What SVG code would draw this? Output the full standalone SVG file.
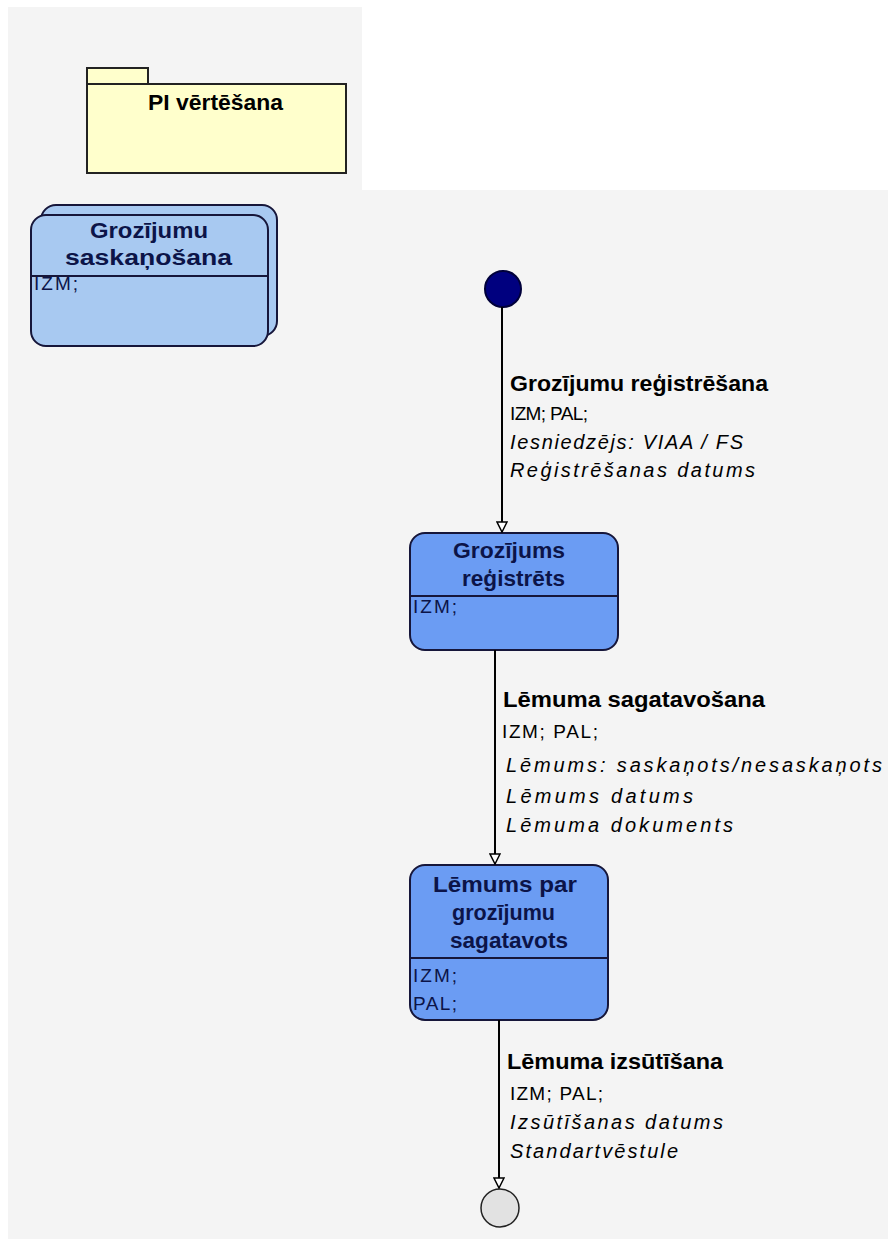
<svg xmlns="http://www.w3.org/2000/svg" width="888" height="1239" viewBox="0 0 888 1239">
<style>
.bg{fill:#f4f4f4}
.node{stroke:#16163a;stroke-width:2}
.n1{fill:#a8c9f1}
.n2{fill:#6b9cf3}
.div{stroke:#16163a;stroke-width:2}
.title{font-family:"Liberation Sans",Arial,sans-serif;font-weight:bold;font-size:22px;fill:#0c1448}
.attr{font-family:"Liberation Sans",Arial,sans-serif;font-size:19px;fill:#0c1448}
.lb{font-family:"Liberation Sans",Arial,sans-serif;font-weight:bold;font-size:22px;fill:#000}
.lr{font-family:"Liberation Sans",Arial,sans-serif;font-size:19px;fill:#000}
.li{font-family:"Liberation Sans",Arial,sans-serif;font-style:italic;font-size:20px;fill:#000}
.edge{stroke:#000;stroke-width:2;fill:none}
</style>
<defs>
<marker id="arr" markerUnits="userSpaceOnUse" markerWidth="12" markerHeight="12" refX="11" refY="6" orient="auto" viewBox="0 0 12 12">
<path d="M1,1 L11,6 L1,11 Z" fill="#fff" stroke="#000" stroke-width="1.5"/>
</marker>
</defs>
<rect x="0" y="0" width="888" height="1239" fill="#fff"/>
<rect class="bg" x="8" y="7" width="354" height="183"/>
<rect class="bg" x="8" y="190" width="880" height="1049"/>

<g id="package">
<rect x="87" y="68" width="61" height="16" fill="#ffffcc" stroke="#222" stroke-width="2"/>
<rect x="87" y="84" width="259" height="89" fill="#ffffcc" stroke="#222" stroke-width="2"/>
<text class="lb" x="148" y="110" textLength="135" lengthAdjust="spacingAndGlyphs">PI vērtēšana</text>
</g>

<g id="grozijumu-saskanosana">
<rect class="node n1" x="41" y="205" width="236" height="131" rx="15"/>
<rect class="node n1" x="31" y="215" width="237" height="131" rx="15"/>
<line class="div" x1="31" y1="276" x2="268" y2="276"/>
<text class="title" x="90" y="238" textLength="118" lengthAdjust="spacingAndGlyphs">Grozījumu</text>
<text class="title" x="65" y="265" textLength="167" lengthAdjust="spacingAndGlyphs">saskaņošana</text>
<text class="attr" x="34" y="290" textLength="44">IZM;</text>
</g>

<g id="initial">
<circle cx="503" cy="289" r="18" fill="#00007f" stroke="#00003a" stroke-width="2"/>
</g>

<g id="grozijums-registrets">
<rect class="node n2" x="410" y="533" width="208" height="117" rx="15"/>
<line class="div" x1="410" y1="596" x2="618" y2="596"/>
<text class="title" x="453" y="558" textLength="112" lengthAdjust="spacingAndGlyphs">Grozījums</text>
<text class="title" x="462" y="586" textLength="103" lengthAdjust="spacingAndGlyphs">reģistrēts</text>
<text class="attr" x="413" y="613" textLength="44">IZM;</text>
</g>

<g id="lemums-sagatavots">
<rect class="node n2" x="410" y="865" width="198" height="155" rx="15"/>
<line class="div" x1="410" y1="958" x2="608" y2="958"/>
<text class="title" x="433" y="892" textLength="144" lengthAdjust="spacingAndGlyphs">Lēmums par</text>
<text class="title" x="452" y="920" textLength="103" lengthAdjust="spacingAndGlyphs">grozījumu</text>
<text class="title" x="450" y="948" textLength="118" lengthAdjust="spacingAndGlyphs">sagatavots</text>
<text class="attr" x="413" y="982" textLength="44">IZM;</text>
<text class="attr" x="413" y="1010" textLength="44">PAL;</text>
</g>

<g id="final">
<circle cx="500" cy="1208" r="19" fill="#e2e2e2" stroke="#222" stroke-width="1.5"/>
</g>

<g id="connectors">
<line class="edge" x1="502" y1="307" x2="502" y2="532" marker-end="url(#arr)"/>
<line class="edge" x1="495" y1="650" x2="495" y2="864" marker-end="url(#arr)"/>
<line class="edge" x1="499" y1="1020" x2="499" y2="1188" marker-end="url(#arr)"/>
</g>

<g id="label-registresana">
<text class="lb" x="510" y="391" textLength="258" lengthAdjust="spacingAndGlyphs">Grozījumu reģistrēšana</text>
<text class="lr" x="510" y="420" textLength="78">IZM; PAL;</text>
<text class="li" x="510" y="449" textLength="233">Iesniedzējs: VIAA / FS</text>
<text class="li" x="510" y="477" textLength="245">Reģistrēšanas datums</text>
</g>

<g id="label-sagatavosana">
<text class="lb" x="503" y="707" textLength="262" lengthAdjust="spacingAndGlyphs">Lēmuma sagatavošana</text>
<text class="lr" x="502" y="738" textLength="96">IZM; PAL;</text>
<text class="li" x="506" y="772" textLength="376">Lēmums: saskaņots/nesaskaņots</text>
<text class="li" x="506" y="803" textLength="187">Lēmums datums</text>
<text class="li" x="506" y="832" textLength="227">Lēmuma dokuments</text>
</g>

<g id="label-izsutisana">
<text class="lb" x="507" y="1069" textLength="216" lengthAdjust="spacingAndGlyphs">Lēmuma izsūtīšana</text>
<text class="lr" x="510" y="1100" textLength="93">IZM; PAL;</text>
<text class="li" x="510" y="1129" textLength="213">Izsūtīšanas datums</text>
<text class="li" x="510" y="1158" textLength="168">Standartvēstule</text>
</g>
</svg>
